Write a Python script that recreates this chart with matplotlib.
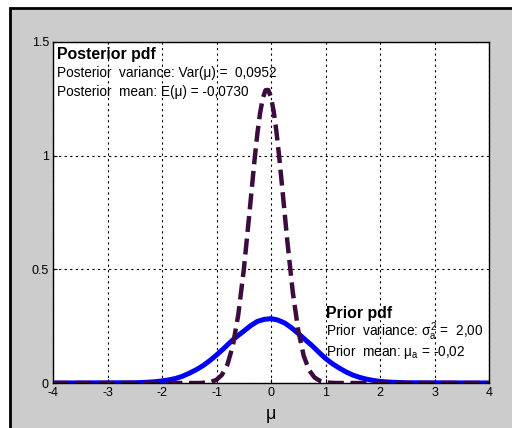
import numpy as np
import matplotlib.pyplot as plt
from matplotlib.patches import Rectangle

plt.rcParams['font.family'] = ['Liberation Sans', 'DejaVu Sans']
plt.rcParams['mathtext.fontset'] = 'custom'
plt.rcParams['mathtext.rm'] = 'Liberation Sans'
plt.rcParams['mathtext.it'] = 'Liberation Sans'
plt.rcParams['mathtext.bf'] = 'Liberation Sans:bold'
plt.rcParams['axes.unicode_minus'] = False

# posterior pdf (dashed)
post_x = [-4, -1.3, -1.2, -1.1, -1.0, -0.9, -0.8, -0.7, -0.6, -0.5, -0.4, -0.3, -0.25,
          -0.2, -0.15, -0.1, -0.05, 0.0, 0.05, 0.1, 0.15, 0.2, 0.3, 0.4, 0.5, 0.6, 0.7,
          0.8, 0.9, 1.0, 1.1, 1.2, 4]
post_y = [0, 0, 0.002, 0.005, 0.014, 0.036, 0.081, 0.164, 0.301, 0.496, 0.737, 0.986, 1.097,
          1.188, 1.253, 1.288, 1.289, 1.257, 1.194, 1.105, 0.996, 0.874, 0.623, 0.399, 0.231, 0.120, 0.056,
          0.024, 0.009, 0.003, 0.001, 0, 0]

# prior pdf (solid blue)
prior_x = [-4, -2.5, -2.25, -2.125, -2.0, -1.875, -1.75, -1.625, -1.5, -1.375, -1.25, -1.125,
           -1.0, -0.875, -0.75, -0.625, -0.5, -0.375, -0.25, -0.125, 0.0,
           0.125, 0.25, 0.375, 0.5, 0.625, 0.75, 0.875, 1.0, 1.125, 1.25, 1.375,
           1.5, 1.625, 1.75, 1.875, 2.0, 2.125, 2.25, 2.5, 4]
prior_y = [0, 0.001, 0.0035, 0.0057, 0.009, 0.0137, 0.020, 0.0295, 0.043, 0.058, 0.076, 0.098,
           0.123, 0.150, 0.179, 0.205, 0.228, 0.252, 0.271, 0.280, 0.283,
           0.277, 0.264, 0.243, 0.218, 0.191, 0.165, 0.136, 0.108, 0.085, 0.066, 0.049,
           0.035, 0.0248, 0.017, 0.0112, 0.007, 0.0046, 0.003, 0.001, 0]

xticks = [-4, -3, -2, -1, 0, 1, 2, 3, 4]
yticks = [0, 0.5, 1, 1.5]
ytick_labels = ['0', '0.5', '1', '1.5']

fig = plt.figure(figsize=(5.12, 4.28), dpi=100)
fig.patch.set_facecolor('white')
#gray panel with black border like the screenshot
fig.add_artist(Rectangle((10/512, -0.05), 1.2, (428-8)/428 + 0.05, transform=fig.transFigure,
                         facecolor='#cccccc', edgecolor='black', lw=2, zorder=-1))

ax = fig.add_axes([53/512, 45/428, 436/512, 341/428])
ax.set_facecolor('white')

ax.plot(prior_x, prior_y, color='#0000ff', lw=3.6, solid_capstyle='butt')
ax.plot(post_x, post_y, color='#3c0b40', lw=3.2, dashes=(3.6, 1.5))

ax.set_xlim(-4, 4)
ax.set_ylim(0, 1.5)
ax.set_xticks(xticks)
ax.set_yticks(yticks)
ax.set_yticklabels(ytick_labels)
ax.tick_params(direction='in', length=3, labelsize=9, pad=3)
ax.grid(True, color='black', linestyle=(0, (2, 3)), lw=0.8)
for s in ax.spines.values():
    s.set_linewidth(1)
ax.set_xlabel('μ', fontsize=13, labelpad=5)

# annotations
ax.text(0.01, 0.962, 'Posterior pdf', transform=ax.transAxes, fontsize=11.4,
        fontweight='bold', va='center')
ax.text(0.01, 0.908, 'Posterior  variance: Var(μ) =  0,0952', transform=ax.transAxes,
        fontsize=9.8, va='center')
ax.text(0.01, 0.852, 'Posterior  mean: E(μ) = -0,0730', transform=ax.transAxes,
        fontsize=9.8, va='center')

ax.text(0.625, 0.205, 'Prior pdf', transform=ax.transAxes, fontsize=11.4,
        fontweight='bold', va='center')
ax.text(0.625, 0.15, r'Prior  variance: $\sigma_a^2$ =  2,00', transform=ax.transAxes,
        fontsize=9.8, va='center')
ax.text(0.625, 0.091, r'Prior  mean: $\mu_a$ = -0,02', transform=ax.transAxes,
        fontsize=9.8, va='center')

fig.savefig('out.png', dpi=100)
